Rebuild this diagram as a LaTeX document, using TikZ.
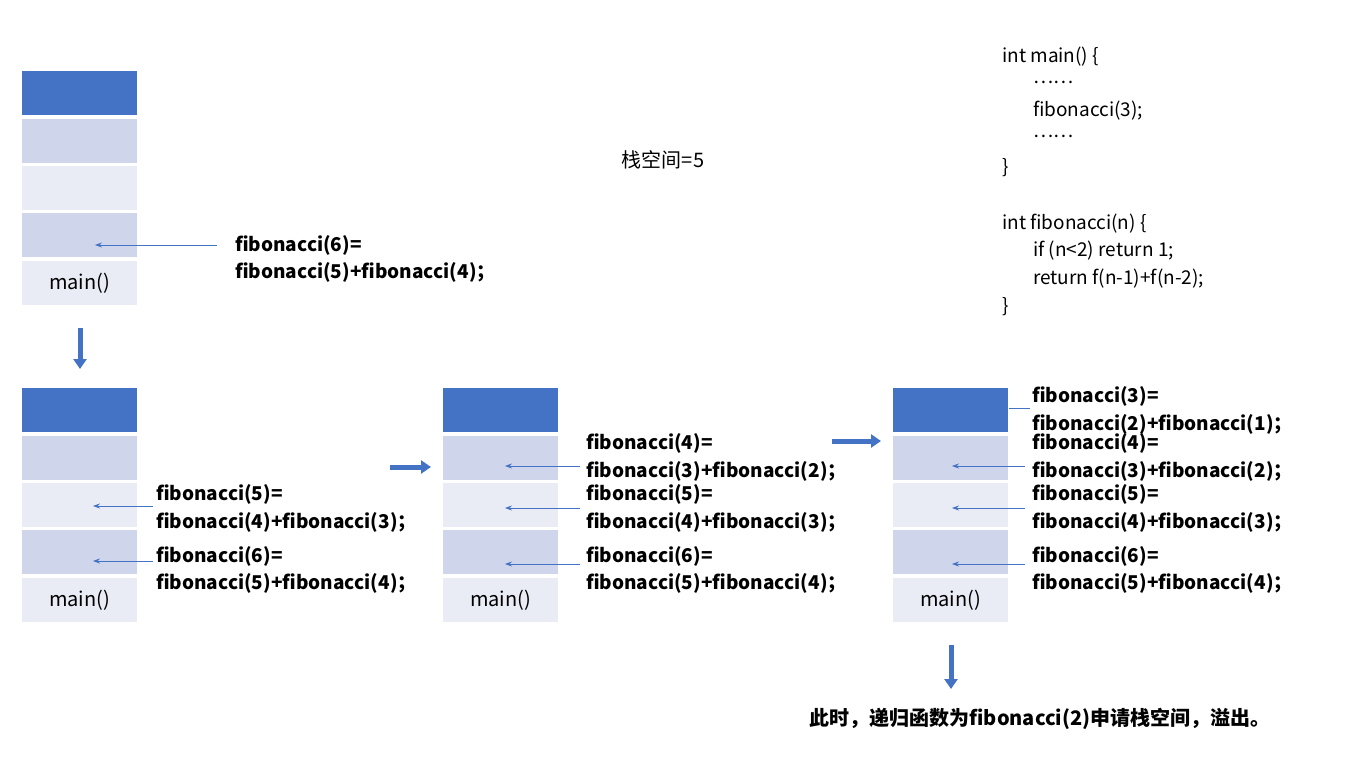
\documentclass[tikz,border=0pt]{standalone}
\usepackage{fontspec}
\setmainfont{Noto Sans CJK SC}
\usetikzlibrary{arrows.meta}
\definecolor{dk}{HTML}{4472C4}
\definecolor{md}{HTML}{CFD5EA}
\definecolor{lt}{HTML}{E9EBF5}
\begin{document}
\begin{tikzpicture}[x=1pt,y=-1pt,
  cell/.style={minimum width=115pt,minimum height=44pt,inner sep=0,anchor=north west},
  lbl/.style={anchor=west,font=\fontsize{19}{19}\selectfont\bfseries,inner sep=0},
  code/.style={anchor=west,font=\fontsize{19}{19}\selectfont,inner sep=0},
  ptr/.style={draw=dk,line width=0.8pt,-{Stealth[length=7pt,width=5pt]}},
  big/.style={draw=dk,line width=5pt,-{Triangle[length=10pt,width=13pt]}}]
\useasboundingbox (0,0) rectangle (1354,767);
% stack builder
\newcommand{\mystack}[3]{%
 \node[cell,fill=dk] (#3a) at (#1,#2) {};
 \node[cell,fill=md] (#3b) at (#1,#2+48) {};
 \node[cell,fill=lt] (#3c) at (#1,#2+95) {};
 \node[cell,fill=md] (#3d) at (#1,#2+142) {};
 \node[cell,fill=lt,font=\fontsize{20}{20}\selectfont] (#3e) at (#1,#2+190) {main()};}
\mystack{22}{71}{s}
\mystack{22}{388}{t}
\mystack{443}{388}{u}
\mystack{893}{388}{v}
% stack 1
\node[lbl] (l1a) at (235,245) {fibonacci(6)=};
\node[lbl] (l1b) at (235,272) {fibonacci(5)+fibonacci(4)；};
\coordinate (p1) at (217,245); \coordinate (q1) at (95,245);
\draw[ptr] (p1) -- (q1);
% stack 2
\node[lbl] (t5a) at (156,494) {fibonacci(5)=};
\node[lbl] (t5b) at (156,522) {fibonacci(4)+fibonacci(3)；};
\node[lbl] (t6a) at (156,556) {fibonacci(6)=};
\node[lbl] (t6b) at (156,583) {fibonacci(5)+fibonacci(4)；};
\coordinate (p2) at (153,506); \coordinate (q2) at (93,506);
\coordinate (p3) at (153,561); \coordinate (q3) at (93,561);
\draw[ptr] (p2) -- (q2); \draw[ptr] (p3) -- (q3);
% stack 3
\foreach \n/\ya/\yb/\t/\s in {4/443/471/3/2,5/494/522/4/3,6/556/583/5/4}{
 \node[lbl] (u\n a) at (586,\ya) {fibonacci(\n)=};
 \node[lbl] (u\n b) at (586,\yb) {fibonacci(\t)+fibonacci(\s)；};
 \node[lbl] (v\n a) at (1032,\ya) {fibonacci(\n)=};
 \node[lbl] (v\n b) at (1032,\yb) {fibonacci(\t)+fibonacci(\s)；};}
\node[lbl] (v3a) at (1032,396) {fibonacci(3)=};
\node[lbl] (v3b) at (1032,424) {fibonacci(2)+fibonacci(1)；};
\foreach \y in {466,508,564}{
 \coordinate (pu\y) at (580,\y); \coordinate (qu\y) at (505,\y);
 \draw[ptr] (pu\y) -- (qu\y);
 \coordinate (pv\y) at (1025,\y); \coordinate (qv\y) at (952,\y);
 \draw[ptr] (pv\y) -- (qv\y);}
\coordinate (w1) at (1009,408); \coordinate (w2) at (1030,408);
\draw[dk,line width=0.8pt] (w1) -- (w2);
% block arrows
\coordinate (b1) at (80,328); \coordinate (b2) at (80,369);
\coordinate (b3) at (390,467); \coordinate (b4) at (431,467);
\coordinate (b5) at (832,441); \coordinate (b6) at (881,441);
\coordinate (b7) at (951,645); \coordinate (b8) at (951,689);
\draw[big] (b1) -- (b2); \draw[big] (b3) -- (b4);
\draw[big] (b5) -- (b6); \draw[big] (b7) -- (b8);
% texts
\node[font=\fontsize{20}{20}\selectfont\itshape] (sz) at (663,160) {栈空间=5};
\node[font=\fontsize{20}{20}\selectfont\bfseries] (ov) at (1040,719) {此时，递归函数为fibonacci(2)申请栈空间，溢出。};
\node[code] (c1) at (1002,57) {int main() \{};
\node[code] (c2) at (1033,82) {……};
\node[code] (c3) at (1033,111) {fibonacci(3);};
\node[code] (c4) at (1033,136) {……};
\node[code] (c5) at (1002,168) {\}};
\node[code] (c6) at (1002,224) {int fibonacci(n) \{};
\node[code] (c7) at (1033,251) {if (n<2) return 1;};
\node[code] (c8) at (1033,279) {return f(n-1)+f(n-2);};
\node[code] (c9) at (1002,307) {\}};
\end{tikzpicture}
\end{document}
